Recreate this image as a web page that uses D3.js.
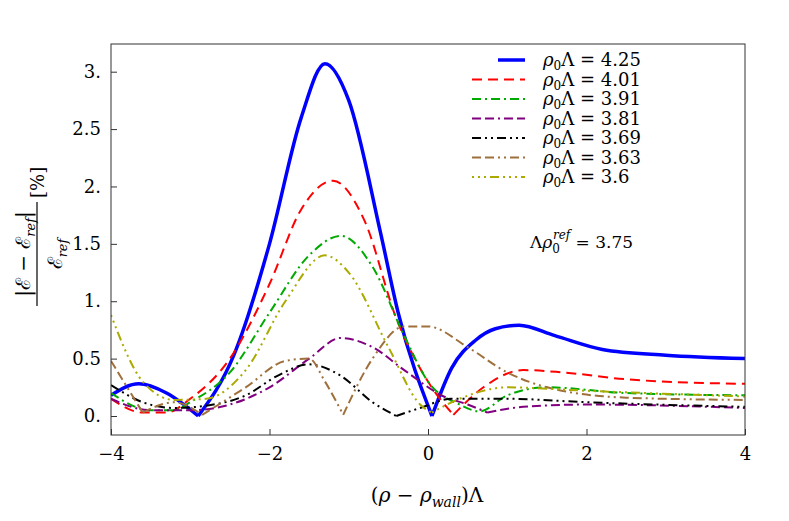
<!DOCTYPE html>
<html><head><meta charset="utf-8"><script src="https://cdn.jsdelivr.net/npm/d3@7"></script>
<style>body{margin:0;background:#fff}svg text{font-family:"DejaVu Serif","Liberation Serif",serif}</style></head>
<body><svg id="c" width="789" height="521"></svg>
<script>
const xTicks=[-4,-2,0,2,4];
const yTicks=[0,0.5,1,1.5,2,2.5,3];
const yTickLabels=["0.","0.5","1.","1.5","2.","2.5","3."];
const labels=["4.25","4.01","3.91","3.81","3.69","3.63","3.6"];
const colors=["#0000ff","#ff0000","#00aa00","#800080","#000000","#a0703c","#aaaa00"];
const dashes=[null,"10,6","9,4,2,4","9,4,9,4,2,4","9,4,2,4,2,4","9,4,9,4,2,4,2,4","2,4,2,4,2,4,9,4"];
const s425=[[-4,0.18],[-3.65,0.28],[-3.3,0.2],[-2.9,0],[-2.45,0.53],[-2,1.5],[-1.6,2.6],[-1.3,3.07],[-1,2.75],[-0.6,1.6],[-0.38,0.91],[0.05,0],[0.3,0.42],[0.6,0.66],[0.85,0.76],[1.15,0.79],[1.6,0.7],[2.2,0.58],[3,0.53],[4,0.5]];
const s401=[[-4,0.15],[-3.6,0.03],[-3.3,0.03],[-3,0.15],[-2.5,0.5],[-2,1.15],[-1.6,1.8],[-1.2,2.05],[-0.8,1.7],[-0.4,0.85],[0,0.3],[0.32,0.01],[0.7,0.25],[1.2,0.4],[1.7,0.38],[2.5,0.32],[4,0.28]];
const s391=[[-4,0.2],[-3.5,0.05],[-3.2,0.05],[-3,0.12],[-2.5,0.38],[-2,0.9],[-1.5,1.4],[-1.1,1.57],[-0.7,1.3],[-0.3,0.7],[0,0.3],[0.4,0.1],[0.65,0.04],[1,0.18],[1.5,0.25],[2.5,0.2],[4,0.18]];
const s381=[[-4,0.15],[-3.5,0.05],[-3,0.05],[-2.5,0.1],[-2,0.25],[-1.5,0.5],[-1.1,0.68],[-0.7,0.6],[-0.3,0.4],[0.2,0.17],[0.5,0.1],[0.75,0.03],[1.2,0.08],[2,0.1],[4,0.07]];
const s369=[[-4,0.27],[-3.6,0.12],[-3.2,0.07],[-2.8,0.09],[-2.3,0.18],[-1.9,0.35],[-1.5,0.45],[-1.1,0.35],[-0.7,0.12],[-0.4,0.0],[-0.1,0.07],[0.3,0.15],[1,0.15],[2,0.12],[4,0.08]];
const s363=[[-4,0.48],[-3.6,0.03],[-3.2,0.12],[-2.85,0.01],[-2.3,0.25],[-1.8,0.48],[-1.5,0.5],[-1.3,0.3],[-1.07,0.01],[-0.7,0.5],[-0.3,0.78],[0,0.78],[0.5,0.6],[1,0.38],[1.5,0.25],[2.5,0.16],[4,0.14]];
const s360=[[-4,0.88],[-3.6,0.3],[-3.2,0.14],[-2.8,0.15],[-2.3,0.4],[-1.8,1.0],[-1.3,1.4],[-1.0,1.25],[-0.5,0.6],[-0.1,0.1],[0.05,0.03],[0.4,0.15],[1,0.25],[2,0.22],[4,0.17]];
const series=[s425,s401,s391,s381,s369,s363,s360];

const svg=d3.select("#c");
const L=111,R=745,T=44,B=435;
const x=d3.scaleLinear().domain([-4,4]).range([L,R]);
const y=d3.scaleLinear().domain([0,3]).range([416,71.7]);
const g=svg.append("g");
g.append("defs").append("clipPath").attr("id","cp").append("rect").attr("x",L).attr("y",T).attr("width",R-L).attr("height",B-T);
const line=d3.line().x(d=>x(d[0])).y(d=>y(d[1])).curve(d3.curveMonotoneX);
// split at sharp minima (cusps) so each branch is curved separately
function pathFor(s){
  let segs=[],cur=[s[0]];
  for(let i=1;i<s.length;i++){
    cur.push(s[i]);
    if(i<s.length-1&&s[i][1]<=0.03&&s[i-1][1]>s[i][1]&&s[i+1][1]>s[i][1]){segs.push(cur);cur=[s[i]];}
  }
  segs.push(cur);
  return segs.map(line).join("");
}
const plot=g.append("g").attr("clip-path","url(#cp)");
series.forEach((s,i)=>{
  plot.append("path").attr("d",pathFor(s)).attr("fill","none").attr("stroke",colors[i])
   .attr("stroke-width",i==0?3.5:2).attr("stroke-dasharray",dashes[i]).attr("stroke-linejoin","miter");
});
g.append("rect").attr("x",L).attr("y",T).attr("width",R-L).attr("height",B-T).attr("fill","none").attr("stroke","#333").attr("stroke-width",1);
const xa=g.append("g").attr("transform",`translate(0,${B})`).call(d3.axisBottom(x).tickValues(xTicks).tickSize(-6).tickPadding(12).tickFormat(d=>d<0?"−"+(-d):d));
const ya=g.append("g").attr("transform",`translate(${L},0)`).call(d3.axisLeft(y).tickValues(yTicks).tickSize(-6).tickPadding(10).tickFormat((d,i)=>yTickLabels[i]));
[xa,ya].forEach(a=>{a.select(".domain").remove();a.selectAll("text").attr("font-size",18).attr("fill","#000").attr("font-family",null);a.selectAll("line").attr("stroke","#333");});
// legend
const leg=g.append("g");
labels.forEach((l,i)=>{
  const yy=60+i*19.5;
  leg.append("line").attr("x1",i==0?498:472).attr("x2",525).attr("y1",yy).attr("y2",yy).attr("stroke",colors[i]).attr("stroke-width",i==0?3.5:2).attr("stroke-dasharray",dashes[i]);
  const t=leg.append("text").attr("x",543).attr("y",yy+6).attr("font-size",18);
  t.append("tspan").attr("font-style","italic").text("ρ");
  t.append("tspan").attr("font-size",12).attr("dy",4).text("0");
  t.append("tspan").attr("dy",-4).text("Λ = "+l);
});
const an=g.append("text").attr("x",530).attr("y",248).attr("font-size",17);
an.append("tspan").text("Λ");an.append("tspan").attr("font-style","italic").text("ρ");
an.append("tspan").attr("font-size",12).attr("dy",5).text("0");
an.append("tspan").attr("font-size",12).attr("font-style","italic").attr("dy",-14).attr("dx",-7).text("ref");
an.append("tspan").attr("dy",9).text(" = 3.75");
const xl=g.append("text").attr("x",427).attr("y",502).attr("text-anchor","middle").attr("font-size",20);
xl.append("tspan").text("(");xl.append("tspan").attr("font-style","italic").text("ρ");
xl.append("tspan").text(" − ");xl.append("tspan").attr("font-style","italic").text("ρ");
xl.append("tspan").attr("font-style","italic").attr("font-size",14).attr("dy",5).text("wall");
xl.append("tspan").attr("dy",-5).text(")Λ");
const yl=g.append("g").attr("transform","translate(36,242) rotate(-90)");
const num=yl.append("text").attr("x",-12).attr("y",-6).attr("text-anchor","middle").attr("font-size",20);
num.append("tspan").text("|ℰ − ℰ");num.append("tspan").attr("font-size",13).attr("font-style","italic").attr("dy",5).text("ref");
num.append("tspan").attr("dy",-5).text("|");
yl.append("line").attr("x1",-64).attr("x2",40).attr("y1",1).attr("y2",1).attr("stroke","#000").attr("stroke-width",1.2);
const den=yl.append("text").attr("x",-12).attr("y",26).attr("text-anchor","middle").attr("font-size",20);
den.append("tspan").text("ℰ");den.append("tspan").attr("font-size",13).attr("font-style","italic").attr("dy",5).text("ref");
yl.append("text").attr("x",44).attr("y",8).attr("font-size",18).text("[%]");
</script></body></html>
